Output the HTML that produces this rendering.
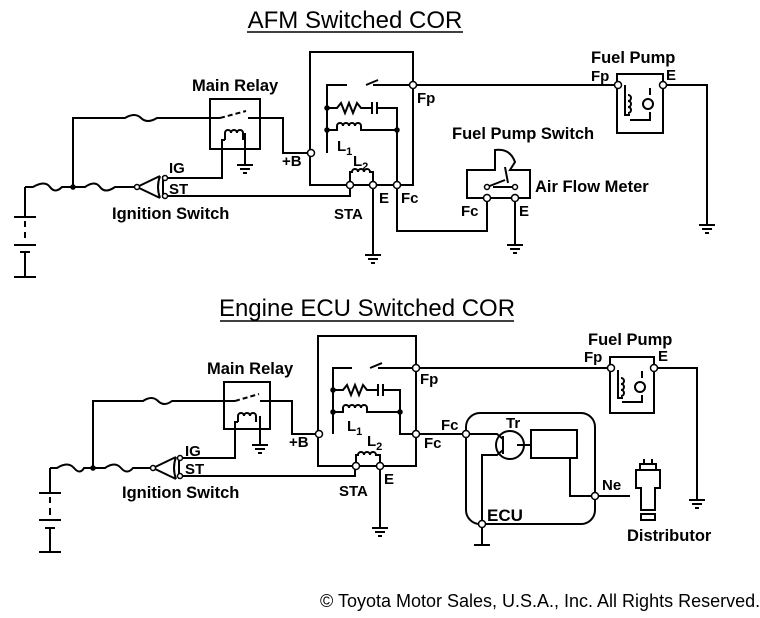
<!DOCTYPE html><html><head><style>body{margin:0;background:#fff}svg{display:block}text{font-family:"Liberation Sans",Arial,sans-serif;font-weight:bold;font-size:16.5px;fill:#000}.t{font-weight:normal;font-size:24px}.s{font-size:15px}</style></head><body>
<svg width="760" height="618" viewBox="0 0 760 618" xmlns="http://www.w3.org/2000/svg">
<g fill="none" stroke="#000" stroke-width="2">
<path d="M25 187V217M14 217H36M25 221V227M25 232V238M14 245H36M20 252H30M25 252V277M14 277H36"/>
<path d="M25 187H33Q45 180 50 187T62 187H85Q95 180 100 187T115 187H137"/>
<path d="M137 187L160 176M137 187L160 198M160 176Q156 187 160 198M163 176V198"/>
<path d="M73 187V118H125Q135 112 141 118T157 118H220"/>
<rect x="210" y="99" width="50" height="50"/>
<path d="M220 118L246 111" stroke-dasharray="5 3"/>
<path d="M248 118H283V153H311"/>
<path d="M225 140V133a3 3 0 0 1 6 0a3 3 0 0 1 6 0a3 3 0 0 1 6 0V140M225 140H222V178H165M245 133V165M237 165H253M240 169H250M243 173H247"/>
<path d="M165 196H350V185"/>
<path d="M310 153V52H413V185H310V153"/>
<path d="M327 153V85H347M366 85L378 80M373 85H413M327 108H337l4 -5 4 10 4 -10 4 10 4 -10 4 5H372M372 102V114M377 102V114M377 108H397V185M327 130H337v-4a3 3 0 0 1 6 0a3 3 0 0 1 6 0a3 3 0 0 1 6 0a3 3 0 0 1 6 0v4H397"/>
<path d="M350 185V172h2a3 3 0 0 1 6 0a3 3 0 0 1 6 0a3 3 0 0 1 6 0h3V185"/>
<path d="M373 185V255M365 255H381M368 259H378M371 263H375"/>
<path d="M397 185V231H487V198"/>
<path d="M467 198V170H495V150Q510 148 515 162L510 170H530V198Z"/>
<path d="M487 187L505 180M508 183L505 167M493 187H515"/>
<path d="M515 198V245M507 245H523M510 249H520M513 253H517"/>
<path d="M413 85H618M617 74H663V133H617Z"/>
<path d="M625 85V115h5M628 95a3 3 0 0 1 0 6a3 3 0 0 1 0 6a3 3 0 0 1 0 6M650 88V95M650 112V120H630"/>
<circle cx="648" cy="104" r="5"/>
<path d="M663 85H707V225M699 225H715M702 229H712M705 233H709"/>
<path d="M50 468V493M39 493H61M50 497V503M50 508V515M39 520H61M45 528H55M50 528V552M39 552H61"/>
<path d="M50 468H57Q68 461 74 468T84 468H105Q115 461 121 468T133 468H153"/>
<path d="M153 468L176 457M153 468L176 479M176 457Q172 468 176 479M179 457V479"/>
<path d="M93 468V401H143Q152 395 158 401T172 401H235"/>
<rect x="224" y="382" width="46" height="47"/>
<path d="M235 401L259 394" stroke-dasharray="5 3"/>
<path d="M260 401H292V434H319"/>
<path d="M238 422V416a3 3 0 0 1 6 0a3 3 0 0 1 6 0a3 3 0 0 1 6 0V422M238 422H235V458H180M260 416V445M252 445H268M255 449H265M258 453H262"/>
<path d="M180 476H355V466"/>
<path d="M318 434V336H416V466H318V434"/>
<path d="M333 434V368H352M370 368L382 363M378 368H416M333 390H343l4 -5 4 10 4 -10 4 10 4 -10 4 5H378M378 384V396M383 384V396M383 390H400V434H416M333 412H343v-4a3 3 0 0 1 6 0a3 3 0 0 1 6 0a3 3 0 0 1 6 0a3 3 0 0 1 6 0v4H400"/>
<path d="M356 466V455h2a3 3 0 0 1 6 0a3 3 0 0 1 6 0a3 3 0 0 1 6 0h4V466"/>
<path d="M380 466V528M372 528H388M375 532H385M378 536H382"/>
<path d="M416 434H466"/>
<rect x="466" y="413" width="129" height="111" rx="14"/>
<circle cx="510" cy="445" r="14"/>
<path d="M466 434H497L503 439M503 436V454M503 450L497 455H482V524M517 445H531M531 430H577V458H531ZM570 458V496H595M595 496H630"/>
<path d="M482 524V545M474 545H490"/>
<path d="M636 470H660V488H655V510H641V488H636ZM640 470V464H656V470M644 464V459M652 464V459M641 514H655V520H641Z"/>
<path d="M416 368H611M610 357H654V413H610Z"/>
<path d="M618 370V398h5M621 378a3 3 0 0 1 0 6a3 3 0 0 1 0 6a3 3 0 0 1 0 6M642 371V378M642 395V402H622"/>
<circle cx="640" cy="387" r="5"/>
<path d="M654 368H697V500M689 500H705M692 504H702M695 508H699"/>
</g>
<g fill="#fff" stroke="#000" stroke-width="1.5">
<circle cx="73" cy="187" r="2" fill="#000"/><circle cx="137" cy="187" r="2.5"/><circle cx="165" cy="178" r="2.5"/><circle cx="165" cy="196" r="2.5"/>
<circle cx="311" cy="153" r="3.5"/><circle cx="413" cy="85" r="3.5"/><circle cx="350" cy="185" r="3.5"/><circle cx="373" cy="185" r="3.5"/><circle cx="397" cy="185" r="3.5"/>
<circle cx="327" cy="108" r="2" fill="#000"/><circle cx="327" cy="130" r="2" fill="#000"/><circle cx="397" cy="130" r="2" fill="#000"/>
<circle cx="487" cy="198" r="3.5"/><circle cx="515" cy="198" r="3.5"/><circle cx="487" cy="187" r="2.5"/><circle cx="515" cy="187" r="2.5"/>
<circle cx="618" cy="85" r="3.5"/><circle cx="663" cy="85" r="3.5"/>
<circle cx="93" cy="468" r="2" fill="#000"/><circle cx="153" cy="468" r="2.5"/><circle cx="180" cy="458" r="2.5"/><circle cx="180" cy="476" r="2.5"/>
<circle cx="319" cy="434" r="3.5"/><circle cx="416" cy="368" r="3.5"/><circle cx="416" cy="434" r="3.5"/><circle cx="356" cy="466" r="3.5"/><circle cx="380" cy="466" r="3.5"/>
<circle cx="333" cy="390" r="2" fill="#000"/><circle cx="333" cy="412" r="2" fill="#000"/><circle cx="400" cy="412" r="2" fill="#000"/>
<circle cx="466" cy="434" r="3.5"/><circle cx="595" cy="496" r="3.5"/><circle cx="482" cy="524" r="3.5"/>
<circle cx="611" cy="368" r="3.5"/><circle cx="654" cy="368" r="3.5"/>
</g>
<text class="t" x="355" y="28" text-anchor="middle">AFM Switched COR</text>
<line x1="247" y1="32" x2="463" y2="32" stroke="#000" stroke-width="1.6"/>
<text x="192" y="91">Main Relay</text><text class="s" x="169" y="173">IG</text><text class="s" x="169" y="194">ST</text>
<text x="112" y="219">Ignition Switch</text><text class="s" x="282" y="166">+B</text>
<text class="s" x="337" y="151">L<tspan font-size="11" dy="4">1</tspan></text><text class="s" x="353" y="166">L<tspan font-size="11" dy="4">2</tspan></text>
<text class="s" x="334" y="219">STA</text><text class="s" x="379" y="203">E</text><text class="s" x="401" y="203">Fc</text><text class="s" x="417" y="103">Fp</text>
<text x="452" y="139">Fuel Pump Switch</text><text x="535" y="192">Air Flow Meter</text>
<text class="s" x="461" y="216">Fc</text><text class="s" x="519" y="216">E</text>
<text x="591" y="63">Fuel Pump</text><text class="s" x="591" y="81">Fp</text><text class="s" x="666" y="80">E</text>
<text class="t" x="367" y="316" text-anchor="middle">Engine ECU Switched COR</text>
<line x1="220" y1="321" x2="514" y2="321" stroke="#000" stroke-width="1.6"/>
<text x="207" y="374">Main Relay</text><text class="s" x="185" y="456">IG</text><text class="s" x="185" y="474">ST</text>
<text x="122" y="498">Ignition Switch</text><text class="s" x="289" y="447">+B</text>
<text class="s" x="347" y="431">L<tspan font-size="11" dy="4">1</tspan></text><text class="s" x="367" y="446">L<tspan font-size="11" dy="4">2</tspan></text>
<text class="s" x="339" y="496">STA</text><text class="s" x="384" y="484">E</text><text class="s" x="424" y="448">Fc</text><text class="s" x="420" y="384">Fp</text>
<text class="s" x="441" y="430">Fc</text><text class="s" x="506" y="428">Tr</text><text class="s" x="602" y="490">Ne</text>
<text x="487" y="521" style="font-size:17px">ECU</text><text x="627" y="541">Distributor</text>
<text x="588" y="345">Fuel Pump</text><text class="s" x="584" y="362">Fp</text><text class="s" x="658" y="361">E</text>
<text x="320" y="607" style="font-weight:normal;font-size:18px">© Toyota Motor Sales, U.S.A., Inc. All Rights Reserved.</text>
</svg></body></html>
